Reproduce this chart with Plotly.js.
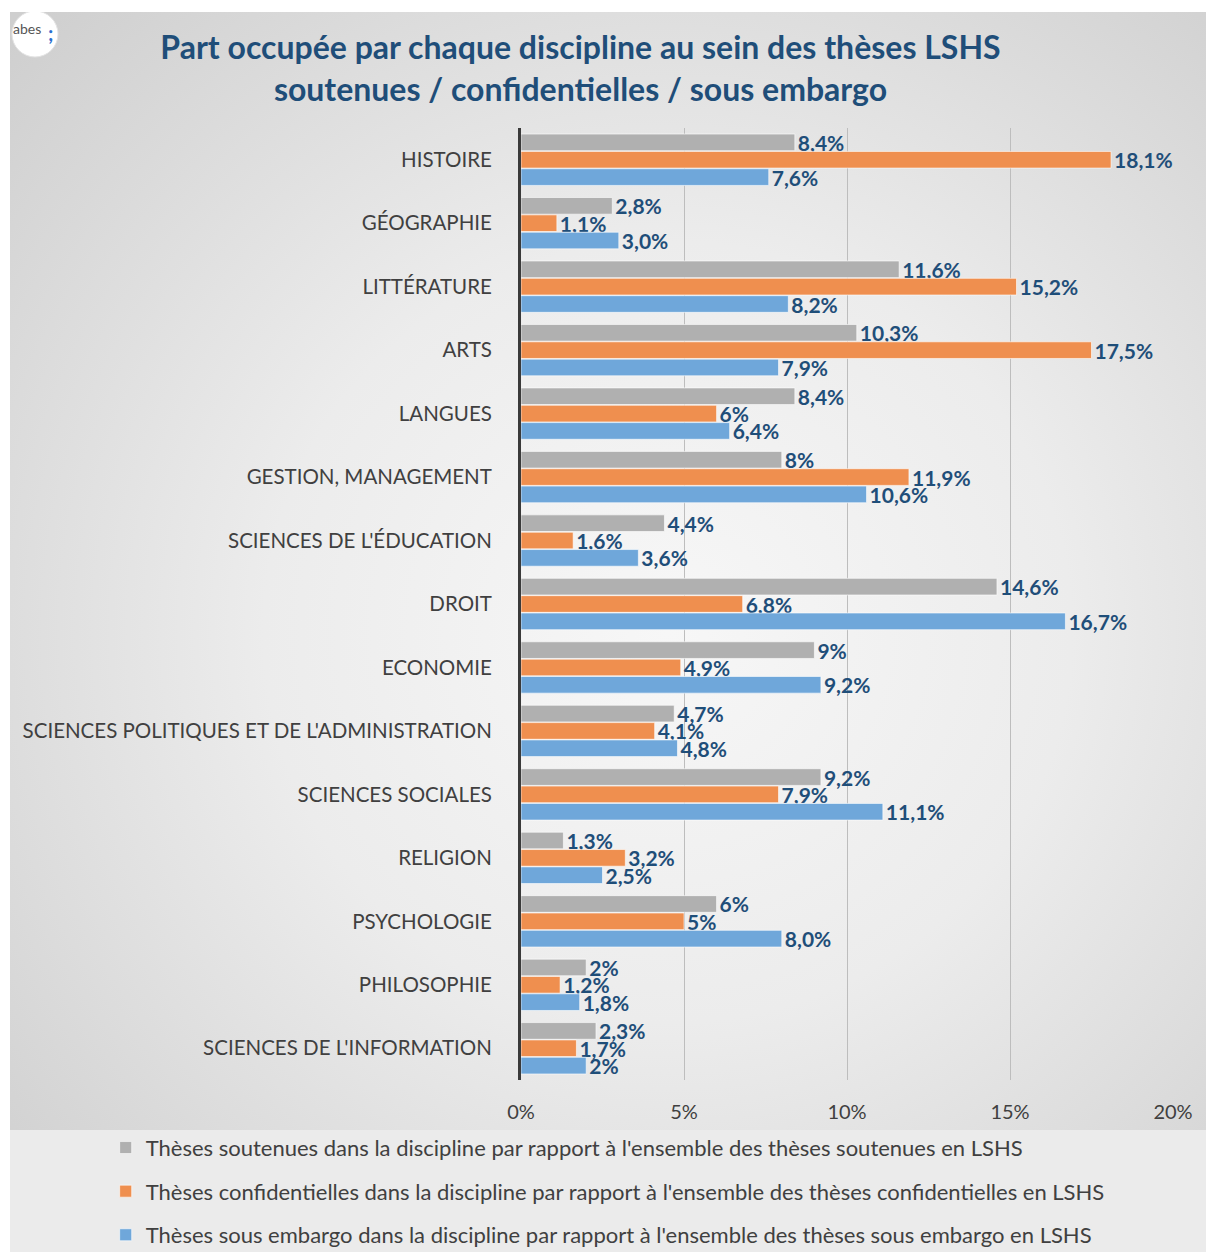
<!DOCTYPE html>
<html>
<head>
<meta charset="utf-8">
<script src="https://cdn.plot.ly/plotly-3.0.1.min.js"></script>
<style>
  body { margin: 0; background: #ffffff; }
  #chart {
    position: absolute; left: 10px; top: 12px; width: 1196px; height: 1240px;
    background:
      linear-gradient(to bottom, rgba(0,0,0,0) 1118px, #ebebeb 1118px),
      radial-gradient(ellipse 75% 70% at 55% 50%, #f7f7f7 0%, #ececec 45%, #cfcfcf 100%);
  }
</style>
</head>
<body>
<div id="chart"></div>
<script>
// disciplines, top to bottom
var categories = [
  "HISTOIRE", "GÉOGRAPHIE", "LITTÉRATURE", "ARTS", "LANGUES",
  "GESTION, MANAGEMENT", "SCIENCES DE L'ÉDUCATION", "DROIT", "ECONOMIE",
  "SCIENCES POLITIQUES ET DE L'ADMINISTRATION", "SCIENCES SOCIALES",
  "RELIGION", "PSYCHOLOGIE", "PHILOSOPHIE", "SCIENCES DE L'INFORMATION"
];

var soutenues = [8.4, 2.8, 11.6, 10.3, 8.4, 8, 4.4, 14.6, 9, 4.7, 9.2, 1.3, 6, 2, 2.3];
var confidentielles = [18.1, 1.1, 15.2, 17.5, 6, 11.9, 1.6, 6.8, 4.9, 4.1, 7.9, 3.2, 5, 1.2, 1.7];
var embargo = [7.6, 3.0, 8.2, 7.9, 6.4, 10.6, 3.6, 16.7, 9.2, 4.8, 11.1, 2.5, 8.0, 1.8, 2];

// labels as printed on the chart
var soutenuesLbl = ["8,4%", "2,8%", "11,6%", "10,3%", "8,4%", "8%", "4,4%", "14,6%", "9%", "4,7%", "9,2%", "1,3%", "6%", "2%", "2,3%"];
var confidentiellesLbl = ["18,1%", "1,1%", "15,2%", "17,5%", "6%", "11,9%", "1,6%", "6,8%", "4,9%", "4,1%", "7,9%", "3,2%", "5%", "1,2%", "1,7%"];
var embargoLbl = ["7,6%", "3,0%", "8,2%", "7,9%", "6,4%", "10,6%", "3,6%", "16,7%", "9,2%", "4,8%", "11,1%", "2,5%", "8,0%", "1,8%", "2%"];

var seriesNames = [
  "Thèses soutenues dans la discipline par rapport à l'ensemble des thèses soutenues en LSHS",
  "Thèses confidentielles dans la discipline par rapport à l'ensemble des thèses confidentielles en LSHS",
  "Thèses sous embargo dans la discipline par rapport à l'ensemble des thèses sous embargo en LSHS"
];

var xTicks = [0, 5, 10, 15, 20];

var FONT = "Lato, 'Open Sans', sans-serif";
var labelFont = { family: FONT, size: 21, color: "#1f4e79", weight: "bold" };

function barTrace(vals, lbls, name, color, grp) {
  return {
    type: "bar",
    orientation: "h",
    y: categories,
    x: vals,
    text: lbls,
    texttemplate: "%{text}",
    textposition: "outside",
    constraintext: "none",
    cliponaxis: false,
    textfont: labelFont,
    name: name,
    legendgroup: grp,
    hoverinfo: "none",
    marker: { color: color, line: { color: "rgba(255,255,255,0.6)", width: 1 } }
  };
}

var data = [
  barTrace(soutenues, soutenuesLbl, seriesNames[0], "#b0b0b0", "a"),
  barTrace(confidentielles, confidentiellesLbl, seriesNames[1], "#ef8f4f", "b"),
  barTrace(embargo, embargoLbl, seriesNames[2], "#6fa7da", "c")
];

var layout = {
  width: 1196,
  height: 1240,
  paper_bgcolor: "rgba(0,0,0,0)",
  plot_bgcolor: "rgba(0,0,0,0)",
  margin: { l: 511, r: 33, t: 116, b: 172, autoexpand: false },
  font: { family: FONT, color: "#404040" },
  title: {
    text: "Part occupée par chaque discipline au sein des thèses LSHS<br>soutenues / confidentielles / sous embargo",
    font: { family: FONT, size: 32, color: "#1f4e79", weight: "bold" },
    x: 0.477,
    xanchor: "center",
    y: 0.962,
    yanchor: "middle"
  },
  barmode: "group",
  bargap: 0.18,
  bargroupgap: 0.04,
  xaxis: {
    range: [0, 20],
    tickvals: xTicks,
    ticktext: xTicks.map(function (v) { return v + "%"; }),
    showgrid: true,
    gridcolor: "#bdbdbd",
    gridwidth: 1,
    zeroline: false,
    showline: false,
    ticks: "",
    tickangle: 0,
    automargin: false,
    tickfont: { family: FONT, size: 20, color: "#404040" },
    ticklabelstandoff: 18,
    fixedrange: true
  },
  yaxis: {
    autorange: "reversed",
    showline: true,
    linecolor: "#3a3a3a",
    linewidth: 3,
    showgrid: false,
    ticks: "",
    automargin: false,
    ticklabelstandoff: 22,
    tickfont: { family: FONT, size: 20.5, color: "#404040" },
    fixedrange: true
  },
  showlegend: true,
  legend: {
    orientation: "v",
    xref: "container",
    yref: "container",
    x: 0.08,
    y: 0.101,
    xanchor: "left",
    yanchor: "top",
    bgcolor: "rgba(0,0,0,0)",
    font: { family: FONT, size: 22, color: "#404040" },
    tracegroupgap: 12,
    itemwidth: 30
  },
  // abes logo, top-left corner
  shapes: [
    { type: "circle", xref: "paper", yref: "paper",
      x0: -0.7807, x1: -0.7101, y0: 1.0746, y1: 1.1229,
      fillcolor: "#ffffff", line: { color: "#e4e4e4", width: 1 } }
  ],
  annotations: [
    { xref: "paper", yref: "paper", x: -0.757, y: 1.104, xanchor: "center", yanchor: "middle",
      text: "abes", showarrow: false, font: { family: FONT, size: 14, color: "#555555" } },
    { xref: "paper", yref: "paper", x: -0.722, y: 1.100, xanchor: "center", yanchor: "middle",
      text: "<b>;</b>", showarrow: false, font: { family: FONT, size: 20, color: "#2a6fd0" } }
  ]
};

Plotly.newPlot("chart", data, layout, { displayModeBar: false, staticPlot: true });
</script>
</body>
</html>
